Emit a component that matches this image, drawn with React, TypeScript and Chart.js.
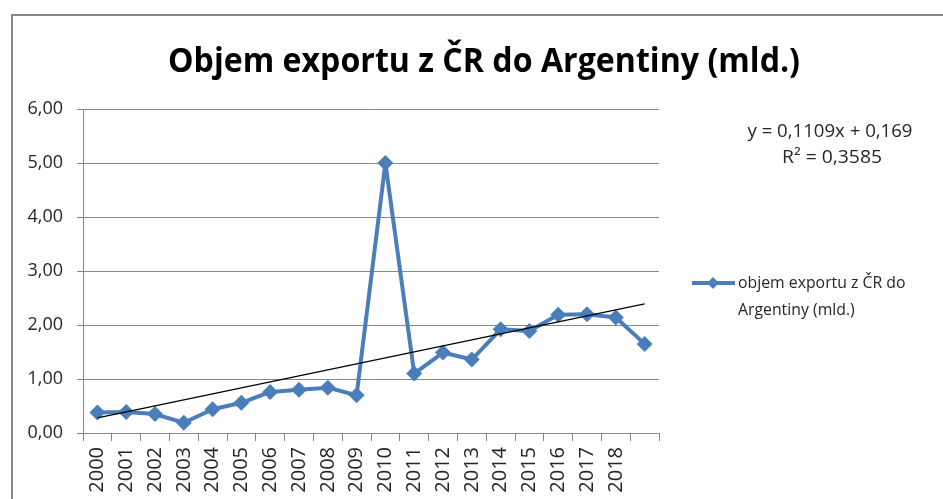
import React, { useEffect, useRef } from "react";
import { Chart, registerables } from "chart.js";

Chart.register(...registerables);

const chartTitle = "Objem exportu z ČR do Argentiny (mld.)";
const seriesLabel = "objem exportu z ČR do Argentiny (mld.)";
const categories = [
  "2000", "2001", "2002", "2003", "2004", "2005", "2006", "2007", "2008", "2009",
  "2010", "2011", "2012", "2013", "2014", "2015", "2016", "2017", "2018", "",
];
const exportValues = [
  0.38, 0.39, 0.35, 0.19, 0.44, 0.56, 0.76, 0.8, 0.84, 0.7,
  5.0, 1.1, 1.49, 1.36, 1.92, 1.89, 2.19, 2.2, 2.14, 1.65,
];
// linear trend line endpoints (y = 0,1109x + 0,169 at x = 1 and x = 20)
const trendStart = 0.28;
const trendEnd = 2.39;
const equationLines = ["y = 0,1109x + 0,169", "R² = 0,3585"];
const yMin = 0;
const yMax = 6;
const yStep = 1;

const BLUE = "#4A7EBB";
const GRID = "#888888";
const TEXT = "#262626";
const FONT = "'Open Sans', 'Liberation Sans', sans-serif";

function drawScaled(ctx: CanvasRenderingContext2D, text: string, x: number, y: number, s: number) {
  ctx.save();
  ctx.translate(x, y);
  ctx.scale(s, 1);
  ctx.fillText(text, 0, 0);
  ctx.restore();
}

function fitText(ctx: CanvasRenderingContext2D, text: string, x: number, y: number, targetW: number, allowGrow = false) {
  const w = ctx.measureText(text).width;
  let s = targetW / w;
  if (!allowGrow) s = Math.min(1, s);
  drawScaled(ctx, text, x, y, s);
}

function wrap(ctx: CanvasRenderingContext2D, text: string, maxW: number): string[] {
  const words = text.split(" ");
  const lines: string[] = [];
  let cur = "";
  for (const w of words) {
    const t = cur ? cur + " " + w : w;
    if (ctx.measureText(t).width > maxW && cur) {
      lines.push(cur);
      cur = w;
    } else cur = t;
  }
  if (cur) lines.push(cur);
  return lines;
}

const extras = {
  id: "extras",
  beforeDraw(chart: any) {
    const ctx: CanvasRenderingContext2D = chart.ctx;
    ctx.save();
    ctx.fillStyle = "#ffffff";
    ctx.fillRect(0, 0, chart.width, chart.height);
    ctx.fillStyle = "#878787";
    ctx.fillRect(11, 14, 2, chart.height - 14);
    ctx.fillRect(11, 14, chart.width - 11, 2);
    ctx.restore();
  },
  afterDraw(chart: any) {
    const ctx: CanvasRenderingContext2D = chart.ctx;
    ctx.save();
    // title
    ctx.fillStyle = "#000000";
    ctx.font = `bold 34px ${FONT}`;
    ctx.textAlign = "center";
    ctx.textBaseline = "alphabetic";
    fitText(ctx, chartTitle, 484, 72, 632);

    // equation
    ctx.fillStyle = TEXT;
    ctx.font = `18px ${FONT}`;
    ctx.textBaseline = "middle";
    fitText(ctx, equationLines[0], 830, 132, 165, true);
    fitText(ctx, equationLines[1], 832, 158, 100, true);

    // legend
    const ds = chart.data.datasets[1];
    ctx.strokeStyle = BLUE;
    ctx.lineWidth = 4;
    ctx.beginPath();
    ctx.moveTo(692, 283);
    ctx.lineTo(735, 283);
    ctx.stroke();
    ctx.fillStyle = BLUE;
    ctx.beginPath();
    const r = 6;
    ctx.moveTo(713, 283 - r);
    ctx.lineTo(713 + r, 283);
    ctx.lineTo(713, 283 + r);
    ctx.lineTo(713 - r, 283);
    ctx.closePath();
    ctx.fill();
    ctx.fillStyle = TEXT;
    ctx.font = `17px ${FONT}`;
    ctx.textAlign = "left";
    const sx = 0.93;
    const lines = wrap(ctx, ds.label, 185);
    lines.forEach((l, i) => drawScaled(ctx, l, 738, 283 + i * 27, sx));
    ctx.restore();
  },
};

export default function App() {
  const ref = useRef<HTMLCanvasElement | null>(null);
  useEffect(() => {
    if (!ref.current) return;
    const trendData = categories.map((_, i) =>
      i === 0 ? trendStart : i === categories.length - 1 ? trendEnd : null
    );
    const chart = new Chart(ref.current, {
      type: "line",
      data: {
        labels: categories,
        datasets: [
          {
            label: "Lineární trend",
            data: trendData,
            borderColor: "#000000",
            borderWidth: 1.2,
            pointRadius: 0,
            spanGaps: true,
            fill: false,
          },
          {
            label: seriesLabel,
            data: exportValues,
            borderColor: BLUE,
            backgroundColor: BLUE,
            borderWidth: 4,
            borderJoinStyle: "round",
            pointStyle: "rectRot",
            pointRadius: 8,
            pointBorderWidth: 0,
            pointBackgroundColor: BLUE,
            tension: 0,
            fill: false,
          },
        ],
      },
      options: {
        responsive: false,
        animation: false,
        devicePixelRatio: 1,
        layout: { padding: { left: 0, top: 109, right: 284, bottom: 6 } },
        plugins: {
          legend: { display: false },
          title: { display: false },
          tooltip: { enabled: false },
        },
        scales: {
          x: {
            type: "category",
            offset: true,
            afterFit: (s: any) => {
              s.height = 60;
            },
            grid: {
              offset: true,
              drawOnChartArea: false,
              drawTicks: true,
              tickLength: 8,
              color: GRID,
            },
            border: { display: true, color: GRID, width: 1 },
            ticks: {
              autoSkip: false,
              maxRotation: 90,
              minRotation: 90,
              padding: 6,
              color: TEXT,
              font: { family: FONT, size: 20 },
            },
          },
          y: {
            min: yMin,
            max: yMax,
            afterFit: (s: any) => {
              s.width = 83;
            },
            grid: { color: GRID, tickLength: 6, drawTicks: true },
            border: { display: true, color: GRID, width: 1 },
            ticks: {
              stepSize: yStep,
              padding: 14,
              color: TEXT,
              font: { family: FONT, size: 18 },
              callback: (v: any) => Number(v).toFixed(2).replace(".", ","),
            },
          },
        },
      },
      plugins: [extras],
    });
    return () => chart.destroy();
  }, []);
  return (
    <div style={{ position: "fixed", left: 0, top: 0, width: 943, height: 499, overflow: "hidden" }}>
      <canvas ref={ref} width={943} height={499} style={{ display: "block" }} />
    </div>
  );
}
